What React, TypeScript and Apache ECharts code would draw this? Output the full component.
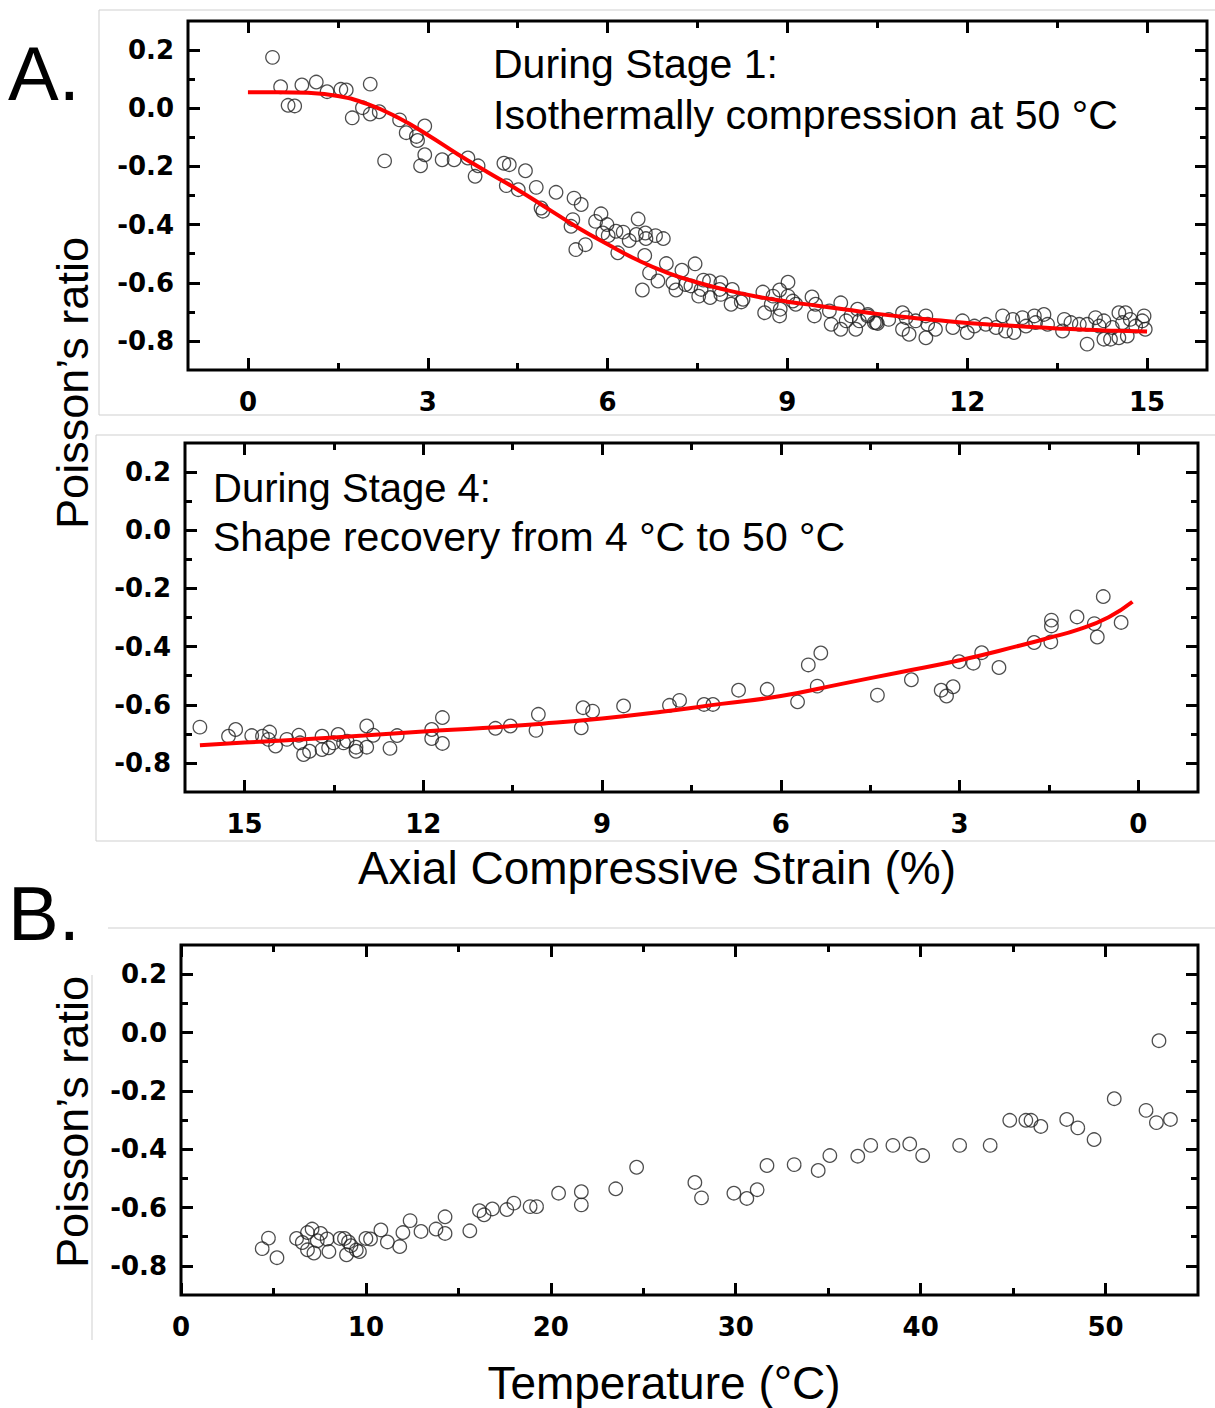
import { useEffect, useRef } from "react";
import * as echarts from "echarts";

// ---- Data ----
const stage1Points: [number, number][] = [
  [0.41, 0.175], [0.545, 0.074], [0.67, 0.01], [0.78, 0.008], [0.9, 0.08], [1.14, 0.09], [1.32, 0.057],
  [1.55, 0.065], [1.64, 0.063], [2.04, 0.083], [1.74, -0.033], [1.91, 0.002], [2.04, -0.02], [2.19, -0.012],
  [2.28, -0.181], [2.53, -0.04], [2.64, -0.084], [2.81, -0.097], [2.83, -0.111], [2.95, -0.061], [2.95, -0.16],
  [2.88, -0.198], [3.24, -0.177], [3.44, -0.177], [3.67, -0.171], [3.84, -0.198], [3.79, -0.234], [4.27, -0.189],
  [4.36, -0.194], [4.63, -0.215], [4.31, -0.266], [4.51, -0.28], [4.81, -0.272], [5.14, -0.289], [4.89, -0.343],
  [4.92, -0.354], [5.44, -0.309], [5.56, -0.331], [5.42, -0.383], [5.39, -0.406], [5.47, -0.486], [5.63, -0.469],
  [5.8, -0.389], [5.89, -0.363], [5.99, -0.4], [5.92, -0.429], [6.01, -0.438], [6.17, -0.497], [6.14, -0.423],
  [6.26, -0.426], [6.36, -0.455], [6.51, -0.381], [6.48, -0.434], [6.63, -0.429], [6.64, -0.448], [6.8, -0.438],
  [6.93, -0.448], [6.62, -0.506], [6.7, -0.566], [6.84, -0.594], [6.58, -0.625], [6.98, -0.534], [7.09, -0.6],
  [7.14, -0.625], [7.24, -0.557], [7.3, -0.606], [7.46, -0.535], [7.52, -0.646], [7.6, -0.591], [7.71, -0.651],
  [7.7, -0.594], [7.89, -0.64], [7.89, -0.6], [8.06, -0.674], [8.08, -0.623], [8.23, -0.666], [8.59, -0.632],
  [8.62, -0.703], [8.73, -0.674], [8.87, -0.625], [9.01, -0.598], [8.87, -0.714], [8.88, -0.691], [9.01, -0.646],
  [9.14, -0.674], [9.41, -0.649], [9.47, -0.674], [9.45, -0.714], [9.7, -0.697], [9.73, -0.743], [9.89, -0.669],
  [9.89, -0.76], [9.98, -0.731], [10.14, -0.76], [10.17, -0.691], [10.34, -0.714], [10.48, -0.737],
  [7.39, -0.611], [7.56, -0.623], [7.87, -0.623], [8.26, -0.657], [8.76, -0.646], [9.09, -0.663], [10.06, -0.714],
  [10.2, -0.731], [10.34, -0.709], [10.45, -0.737], [10.5, -0.74], [10.69, -0.726], [10.92, -0.703], [10.98, -0.72],
  [10.92, -0.76], [11.03, -0.777], [11.14, -0.731], [11.31, -0.714], [11.34, -0.743], [11.31, -0.789], [11.47, -0.76],
  [11.76, -0.754], [11.92, -0.731], [12.0, -0.771], [12.12, -0.749], [12.31, -0.743], [12.48, -0.754], [12.59, -0.714],
  [12.64, -0.766], [12.78, -0.771], [12.76, -0.726], [12.92, -0.72], [12.98, -0.749], [13.12, -0.714], [13.14, -0.737],
  [13.28, -0.709], [13.34, -0.743], [13.62, -0.726], [13.59, -0.766], [13.73, -0.737], [13.87, -0.743], [14.0, -0.743],
  [14.0, -0.811], [14.14, -0.72], [14.2, -0.749], [14.28, -0.731], [14.28, -0.794], [14.39, -0.794], [14.42, -0.754],
  [14.53, -0.703], [14.53, -0.789], [14.59, -0.737], [14.64, -0.703], [14.67, -0.783], [14.72, -0.726], [14.81, -0.749],
  [14.95, -0.714], [14.97, -0.76], [14.92, -0.731],
];

const stage1Fit: [number, number][] = [
  [0, 0.055], [0.5, 0.055], [1, 0.053], [1.5, 0.042], [2, 0.014], [2.5, -0.032], [3, -0.092], [3.5, -0.158],
  [4, -0.22], [4.5, -0.28], [5, -0.345], [5.5, -0.41], [6, -0.468], [6.5, -0.522], [7, -0.566], [7.5, -0.599],
  [8, -0.626], [8.5, -0.648], [9, -0.665], [9.5, -0.679], [10, -0.693], [10.5, -0.707], [11, -0.719], [11.5, -0.729],
  [12, -0.738], [12.5, -0.745], [13, -0.751], [13.5, -0.757], [14, -0.762], [14.5, -0.765], [15, -0.768],
];

const stage4Points: [number, number][] = [
  [15.75, -0.677], [15.27, -0.708], [15.15, -0.685], [14.88, -0.706], [14.7, -0.708], [14.58, -0.694], [14.6, -0.719],
  [14.48, -0.742], [14.29, -0.719], [14.09, -0.705], [14.07, -0.731], [14.01, -0.771], [13.91, -0.76], [13.7, -0.708],
  [13.7, -0.754], [13.59, -0.748], [13.51, -0.731], [13.43, -0.702], [13.34, -0.731], [13.28, -0.725], [13.13, -0.76],
  [13.13, -0.746], [12.95, -0.673], [12.95, -0.746], [12.84, -0.705], [12.56, -0.75], [12.44, -0.706], [11.86, -0.685],
  [11.86, -0.716], [11.68, -0.644], [11.68, -0.733], [10.79, -0.681], [10.54, -0.673], [10.11, -0.688], [10.07, -0.633],
  [9.35, -0.679], [9.32, -0.61], [9.16, -0.622], [8.64, -0.604], [7.87, -0.602], [7.7, -0.585], [7.29, -0.599],
  [7.14, -0.599], [6.71, -0.55], [6.23, -0.547], [5.72, -0.59], [5.54, -0.463], [5.33, -0.422], [5.39, -0.536],
  [4.38, -0.567], [3.81, -0.514], [3.31, -0.55], [3.22, -0.57], [3.11, -0.538], [3.01, -0.452], [2.77, -0.457],
  [2.63, -0.421], [2.34, -0.472], [1.75, -0.386], [1.47, -0.384], [1.46, -0.329], [1.46, -0.309], [1.03, -0.298],
  [0.74, -0.321], [0.69, -0.367], [0.59, -0.228], [0.29, -0.317],
];

const stage4Fit: [number, number][] = [
  [15.75, -0.739], [15, -0.73], [14, -0.719], [13, -0.706], [12, -0.692], [11, -0.68], [10, -0.665], [9, -0.647],
  [8, -0.624], [7, -0.597], [6, -0.57], [5, -0.529], [4, -0.488], [3, -0.447], [2, -0.397], [1.5, -0.37],
  [1, -0.341], [0.5, -0.299], [0.1, -0.246],
];

const temperaturePoints: [number, number][] = [
  [4.39, -0.741], [4.73, -0.705], [5.19, -0.772], [6.25, -0.706], [6.56, -0.72], [6.84, -0.686], [7.09, -0.674],
  [6.84, -0.745], [7.19, -0.756], [7.55, -0.689], [7.37, -0.714], [7.9, -0.708], [8.0, -0.751], [8.6, -0.706],
  [8.84, -0.706], [9.06, -0.718], [9.19, -0.731], [8.95, -0.762], [9.48, -0.746], [9.65, -0.751], [10.0, -0.706],
  [10.25, -0.708], [10.81, -0.677], [11.16, -0.718], [11.83, -0.734], [12.0, -0.686], [12.39, -0.645], [12.98, -0.682],
  [13.79, -0.674], [14.28, -0.689], [14.28, -0.632], [15.62, -0.68], [16.14, -0.611], [16.39, -0.625], [16.84, -0.605],
  [17.62, -0.607], [18.0, -0.585], [18.88, -0.597], [19.23, -0.597], [20.42, -0.551], [21.65, -0.546], [21.65, -0.591],
  [23.51, -0.536], [24.64, -0.462], [27.79, -0.514], [28.15, -0.567], [29.9, -0.551], [30.6, -0.569], [31.16, -0.539],
  [31.69, -0.456], [33.16, -0.453], [34.46, -0.473], [35.09, -0.422], [36.6, -0.424], [37.3, -0.387], [38.5, -0.387],
  [39.41, -0.382], [40.11, -0.422], [42.11, -0.387], [43.76, -0.387], [44.82, -0.301], [45.69, -0.301], [45.97, -0.301],
  [46.5, -0.322], [47.9, -0.298], [48.5, -0.327], [49.38, -0.367], [50.47, -0.227], [52.19, -0.267], [52.75, -0.309],
  [52.89, -0.028], [53.51, -0.298],
];

const strainMajorTicks = [0, 3, 6, 9, 12, 15];
const strainMinorTicks = [1.5, 4.5, 7.5, 10.5, 13.5];
const tempMajorTicks = [0, 10, 20, 30, 40, 50];
const tempMinorTicks = [5, 15, 25, 35, 45];
const ratioMajorTicks = [-0.8, -0.6, -0.4, -0.2, 0, 0.2];
const ratioMinorTicks = [-0.7, -0.5, -0.3, -0.1, 0.1];

const FONT = '"Liberation Sans", Arial, Helvetica, sans-serif';
const TICK_FONT = '"DejaVu Sans", "Liberation Sans", Arial, sans-serif';

function buildAxes(
  dim: "x" | "y",
  gridIndex: number,
  min: number,
  max: number,
  majors: number[],
  minors: number[],
  inverse: boolean,
  fmt: (v: number) => string,
  margin: number
) {
  const positions = dim === "x" ? ["bottom", "top"] : ["left", "right"];
  const out: any[] = [];
  positions.forEach((p, pi) => {
    [
      { vals: majors, len: 12 },
      { vals: minors, len: 7 },
    ].forEach((t, ti) => {
      const showLabel = pi === 0 && ti === 0;
      out.push({
        type: "value",
        gridIndex,
        position: p,
        min,
        max,
        inverse,
        axisLine: { show: false, onZero: false },
        splitLine: { show: false },
        axisTick: {
          show: true,
          inside: true,
          length: t.len,
          customValues: t.vals,
          lineStyle: { color: "#000", width: 3 },
        },
        axisLabel: showLabel
          ? {
              show: true,
              customValues: t.vals,
              formatter: (v: number) => fmt(v),
              fontSize: 26,
              fontWeight: "bold",
              color: "#000",
              fontFamily: TICK_FONT,
              margin,
            }
          : { show: false },
      });
    });
  });
  return out;
}

const xfmt = (v: number) => String(Math.round(v));
const yfmt = (v: number) => (Math.abs(v) < 1e-9 ? "0.0" : v.toFixed(1));

export default function App() {
  const ref = useRef<HTMLDivElement>(null);
  useEffect(() => {
    if (!ref.current) return;
    const chart = echarts.init(ref.current, undefined, { renderer: "svg" });

    const grids = [
      { left: 188, top: 21, width: 1019, height: 349 },
      { left: 185, top: 443, width: 1013, height: 349 },
      { left: 181, top: 945, width: 1017, height: 350 },
    ].map((g) => ({ ...g, show: true, borderColor: "#000", borderWidth: 3, backgroundColor: "transparent" }));

    const xAxis = [
      ...buildAxes("x", 0, -1, 16, strainMajorTicks, strainMinorTicks, false, xfmt, 19),
      ...buildAxes("x", 1, -1, 16, strainMajorTicks, strainMinorTicks, true, xfmt, 19),
      ...buildAxes("x", 2, 0, 55, tempMajorTicks, tempMinorTicks, false, xfmt, 19),
    ];
    const yAxis = [
      ...buildAxes("y", 0, -0.9, 0.3, ratioMajorTicks, ratioMinorTicks, false, yfmt, 14),
      ...buildAxes("y", 1, -0.9, 0.3, ratioMajorTicks, ratioMinorTicks, false, yfmt, 14),
      ...buildAxes("y", 2, -0.9, 0.3, ratioMajorTicks, ratioMinorTicks, false, yfmt, 14),
    ];

    const scatterStyle = {
      color: "rgba(255,255,255,0)",
      borderColor: "#222",
      borderWidth: 1.3,
    };
    const lineStyle = { color: "#ff0000", width: 4 };

    const text = (t: string, x: number, y: number, size: number, extra: any = {}) => ({
      type: "text",
      x,
      y,
      ...extra,
      style: {
        text: t,
        x: 0,
        y: 0,
        font: `${extra.weight || "normal"} ${size}px ${FONT}`,
        fill: "#000",
        align: extra.align || "left",
        verticalAlign: "middle",
        textAlign: extra.align || "left",
        textVerticalAlign: "middle",
      },
    });

    const grayLine = (x1: number, y1: number, x2: number, y2: number) => ({
      type: "line",
      shape: { x1, y1, x2, y2 },
      style: { stroke: "#cfcfcf", lineWidth: 1 },
      z: -1,
    });

    chart.setOption({
      animation: false,
      backgroundColor: "#fff",
      grid: grids,
      xAxis,
      yAxis,
      series: [
        {
          type: "scatter",
          xAxisIndex: 0,
          yAxisIndex: 0,
          data: stage1Points,
          symbol: "circle",
          symbolSize: 13.5,
          itemStyle: scatterStyle,
          z: 2,
        },
        {
          type: "line",
          xAxisIndex: 0,
          yAxisIndex: 0,
          data: stage1Fit,
          smooth: true,
          showSymbol: false,
          lineStyle,
          z: 3,
        },
        {
          type: "scatter",
          xAxisIndex: 4,
          yAxisIndex: 4,
          data: stage4Points,
          symbol: "circle",
          symbolSize: 13.5,
          itemStyle: scatterStyle,
          z: 2,
        },
        {
          type: "line",
          xAxisIndex: 4,
          yAxisIndex: 4,
          data: stage4Fit,
          smooth: true,
          showSymbol: false,
          lineStyle,
          z: 3,
        },
        {
          type: "scatter",
          xAxisIndex: 8,
          yAxisIndex: 8,
          data: temperaturePoints,
          symbol: "circle",
          symbolSize: 13.5,
          itemStyle: scatterStyle,
          z: 2,
        },
      ],
      graphic: [
        grayLine(99, 10, 1215, 10),
        grayLine(99, 10, 99, 415),
        grayLine(99, 415, 1215, 415),
        grayLine(96, 435, 1215, 435),
        grayLine(96, 435, 96, 841),
        grayLine(96, 841, 1215, 841),
        grayLine(108, 928, 1215, 928),
        grayLine(92, 975, 92, 1340),
        text("A.", 8, 73, 76),
        text("B.", 8, 913, 76),
        text("During Stage 1:", 493, 64, 41),
        text("Isothermally compression at 50 °C", 493, 115, 41),
        text("During Stage 4:", 213, 488, 40),
        text("Shape recovery from 4 °C to 50 °C", 213, 537, 41),
        text("Poisson’s ratio", 72, 383, 45, { rotation: Math.PI / 2, align: "center" }),
        text("Poisson’s ratio", 72, 1122, 45, { rotation: Math.PI / 2, align: "center" }),
        text("Axial Compressive Strain (%)", 657, 868, 46, { align: "center" }),
        text("Temperature (°C)", 664, 1383, 46, { align: "center" }),
      ],
    });
    return () => chart.dispose();
  }, []);
  return (
    <div
      ref={ref}
      style={{ position: "absolute", left: 0, top: 0, width: 1215, height: 1408, background: "#fff" }}
    />
  );
}
